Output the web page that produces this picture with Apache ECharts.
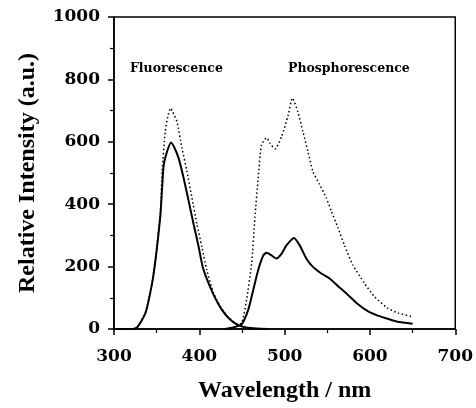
<!DOCTYPE html>
<html>
<head>
<meta charset="utf-8">
<script src="https://cdn.jsdelivr.net/npm/echarts@6/dist/echarts.min.js"></script>
<style>
html,body{margin:0;padding:0;background:#fff;}
#chart{width:476px;height:408px;}
</style>
</head>
<body>
<div id="chart"></div>
<script>
// Fluorescence (solid)
const fluorSolidX = [300,320,327,337,344.7,348.6,351.7,354.5,356.4,358.3,362.2,367,371,375.8,381.6,387.5,393.3,399,404,410.8,418.6,426.3,434,442,450,460,480];
const fluorSolidY = [0,0,5,52,147,220,294,368,452,526,569,598,580,547,484,410,336,266,199,147,99,62,36,18,8,3,0];
// Fluorescence (dotted)
const fluorDotX = [300,320,327,337,344.7,348.6,351.7,354.5,356.4,360,363,366.5,369,373.8,379.7,385.5,391.3,397.2,403,408.8,416.6,426,434,442,450,460,480];
const fluorDotY = [0,0,5,55,150,225,300,380,505,632,680,708,695,664,579,505,421,336,263,189,115,66,38,19,9,3,0];
// Phosphorescence (solid)
const phosSolidX = [430,440,449.6,457.4,463.3,469,475,478.8,484.6,490.4,496.3,502.1,511,517.7,525.4,533.2,543,552.7,562.4,574,585.7,597.4,609,620.7,632.4,650];
const phosSolidY = [0,5,15,62,126,189,236,244,236,226,241,268,292,268,226,199,178,162,138,110,80,57,43,33,23,17];
// Phosphorescence (dotted)
const phosDotX = [430,440,449.6,455.4,461.3,465.2,469,472.9,478.8,483,488.6,496.3,504.1,509.1,515.6,521.5,527.3,533.2,541,548.7,554.6,562.4,570.2,580,593.5,605.2,620.7,632.4,650];
const phosDotY = [0,5,20,94,210,358,484,590,613,595,577,616,685,740,695,632,569,505,463,421,379,325,268,205,147,104,67,52,39];

const xTicks = [300,400,500,600,700];
const yTicks = [0,200,400,600,800,1000];
const annotations = ['Fluorescence','Phosphorescence'];

const pair = (xs, ys) => xs.map((x,i)=>[x, ys[i]]);

const chart = echarts.init(document.getElementById('chart'));
const tickFont = {fontFamily:'DejaVu Serif', fontWeight:'bold', fontSize:17, color:'#000'};
const titleFont = {fontFamily:'Liberation Serif', fontWeight:'bold', fontSize:24, color:'#000'};
const annFont = {fontFamily:'DejaVu Serif', fontWeight:'bold', fontSize:12.5, fill:'#000'};

chart.setOption({
  animation:false,
  backgroundColor:'#fff',
  grid:{left:114, top:17, width:342, height:316, show:true, borderColor:'#000', borderWidth:1.5, backgroundColor:'transparent'},
  xAxis:{
    type:'value', min:xTicks[0], max:xTicks[xTicks.length-1], interval:100,
    name:'Wavelength / nm', nameLocation:'middle', nameGap:50, nameTextStyle:titleFont,
    axisLine:{lineStyle:{color:'#000', width:1.5}},
    axisTick:{show:true, length:6, lineStyle:{color:'#000', width:1.5}},
    minorTick:{show:true, splitNumber:2, length:4, lineStyle:{color:'#000', width:1.2}},
    splitLine:{show:false},
    axisLabel:Object.assign({margin:19, formatter:v=>String(v)}, tickFont)
  },
  yAxis:{
    type:'value', min:yTicks[0], max:yTicks[yTicks.length-1], interval:200,
    name:'Relative Intensity (a.u.)', nameLocation:'middle', nameGap:74, nameTextStyle:titleFont,
    axisLine:{lineStyle:{color:'#000', width:1.5}},
    axisTick:{show:true, length:6, lineStyle:{color:'#000', width:1.5}},
    minorTick:{show:true, splitNumber:2, length:4, lineStyle:{color:'#000', width:1.2}},
    splitLine:{show:false},
    axisLabel:Object.assign({margin:14, formatter:v=>String(v)}, tickFont)
  },
  graphic:[
    {type:'text', left:130, top:62, style:Object.assign({text:annotations[0]}, annFont)},
    {type:'text', left:288, top:62, style:Object.assign({text:annotations[1]}, annFont)}
  ],
  series:[
    {type:'line', data:pair(fluorDotX, fluorDotY), symbol:'none', smooth:0.2,
     lineStyle:{color:'#000', width:1.5, type:[1.5,2.5]}},
    {type:'line', data:pair(phosDotX, phosDotY), symbol:'none', smooth:0.2,
     lineStyle:{color:'#000', width:1.5, type:[1.5,2.5]}},
    {type:'line', data:pair(fluorSolidX, fluorSolidY), symbol:'none', smooth:0.2,
     lineStyle:{color:'#000', width:2}},
    {type:'line', data:pair(phosSolidX, phosSolidY), symbol:'none', smooth:0.2,
     lineStyle:{color:'#000', width:2}}
  ]
});
</script>
</body>
</html>
